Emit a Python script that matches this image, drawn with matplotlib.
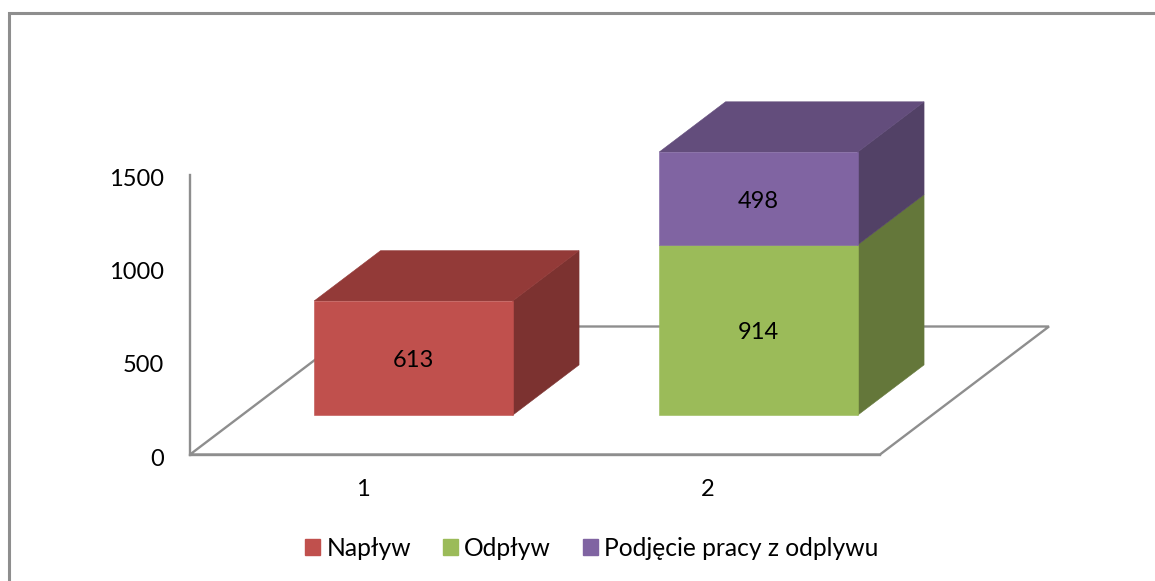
import matplotlib; matplotlib.use('Agg')
import matplotlib.pyplot as plt
from matplotlib.patches import Polygon, Rectangle
from matplotlib.transforms import ScaledTranslation

categories = ['1', '2']
series = ['Napływ', 'Odpływ', 'Podjęcie pracy z odplywu']
# stacks per category: (series index, value)
stacks = [[(0, 613)], [(1, 914), (2, 498)]]
yticks = [0, 500, 1000, 1500]

FRONT = ['#C0504D', '#9BBB59', '#8064A2']
TOP   = ['#933A38', '#76904A', '#634D7C']
SIDE  = ['#7C3230', '#64773A', '#524166']
AXIS  = '#8E8E8E'

W, H = 1155, 581
L, R, B, T = 190, 880, 454.5, 175   # plot box in pixels from top-left
DEPTH_X = 169 / 345   # full floor depth in category units
DEPTH_Y = 128 / (279.5 / 1500)  # same in value units
BAR_W = 198.5 / 345
BAR_SHIFT = -1 / 345  # bars sit a pixel left of the tick centre
D0, D1 = 0.307, 0.70  # bar front/back as share of floor depth
FS = 17

plt.rcParams['font.family'] = ['Lato', 'DejaVu Sans']
fig = plt.figure(figsize=(W / 100, H / 100), dpi=100)
ax = fig.add_axes([L / W, 1 - B / H, (R - L) / W, (B - T) / H])
ax.set_xlim(0, 2); ax.set_ylim(0, 1500)
ax.patch.set_visible(False)

def proj(x, y, d):
    return (x + d * DEPTH_X, y + d * DEPTH_Y)

# floor
floor = [proj(0, 0, 0), proj(2, 0, 0), proj(2, 0, 1), proj(0, 0, 1)]
ax.add_patch(Polygon(floor, closed=True, fill=False, ec=AXIS, lw=1.7, clip_on=False, zorder=1))

# bars
for i, stack in enumerate(stacks):
    x0 = i + 0.5 + BAR_SHIFT - BAR_W / 2
    x1 = x0 + BAR_W
    base = 0
    for k, v in stack:
        top = base + v
        ax.add_patch(Polygon([proj(x1, base, D0), proj(x1, base, D1), proj(x1, top, D1), proj(x1, top, D0)],
                             closed=True, fc=SIDE[k], ec=SIDE[k], lw=0.4, clip_on=False, zorder=2))
        ax.add_patch(Polygon([proj(x0, base, D0), proj(x1, base, D0), proj(x1, top, D0), proj(x0, top, D0)],
                             closed=True, fc=FRONT[k], ec=FRONT[k], lw=0.4, clip_on=False, zorder=3))
        ax.annotate(str(v), proj(i + 0.5 + BAR_SHIFT, base + v / 2, D0), xytext=(0, -2), textcoords='offset points',
                    ha='center', va='center', fontsize=FS, color='black', zorder=5)
        base = top
    k = stack[-1][0]
    ax.add_patch(Polygon([proj(x0, base, D0), proj(x1, base, D0), proj(x1, base, D1), proj(x0, base, D1)],
                         closed=True, fc=TOP[k], ec=TOP[k], lw=0.4, clip_on=False, zorder=2))

for s in ['top', 'right']:
    ax.spines[s].set_visible(False)
ax.spines['left'].set_color(AXIS); ax.spines['left'].set_linewidth(1.7)
ax.spines['bottom'].set_color(AXIS); ax.spines['bottom'].set_linewidth(1.7)
ax.set_xticks([0.5, 1.5], categories)
ax.set_yticks(yticks)
ax.tick_params(axis='both', length=0, labelsize=FS, colors='black')
ax.tick_params(axis='x', pad=17.5)
ax.tick_params(axis='y', pad=18.5)
# y labels sit a bit under their tick level in the original
down = ScaledTranslation(0, -1.8 / 72, fig.dpi_scale_trans)
for t in ax.get_yticklabels():
    t.set_transform(t.get_transform() + down)

# outer frame
fig.add_artist(Rectangle((9 / W, -0.1), 1.2, 1.1 - 13 / H, transform=fig.transFigure,
                         fill=False, ec=AXIS, lw=2.2))

handles = [Rectangle((0, 0), 1, 1, fc=c, ec=c) for c in FRONT]
fig.legend(handles, series, loc='center', bbox_to_anchor=(592 / W, 1 - 548 / H), ncol=3,
           frameon=False, fontsize=17.7, handlelength=0.6, handleheight=0.6,
           handletextpad=0.26, columnspacing=1.3)

fig.savefig('out.png', dpi=100)
